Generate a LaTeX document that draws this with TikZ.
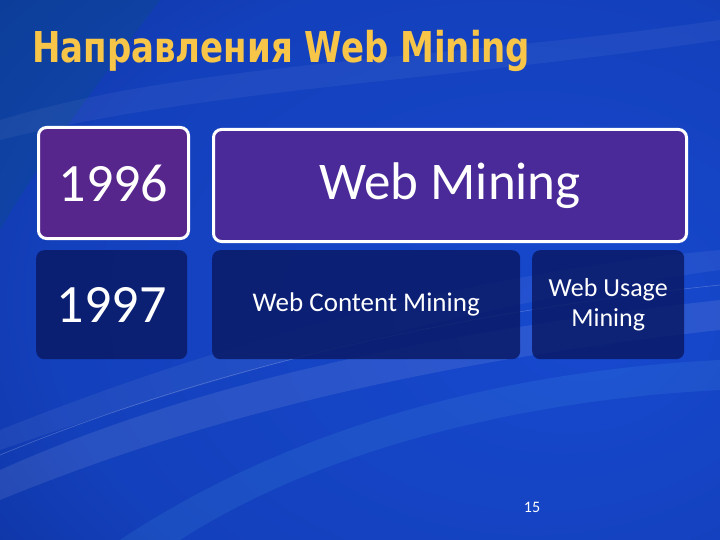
\documentclass[tikz,border=0pt]{standalone}
\usepackage{fontspec}
\setmainfont{Carlito}
\newfontfamily\titlefont{DejaVu Sans}
\usetikzlibrary{shadings}
\definecolor{bgmid}{HTML}{1749CF}
\definecolor{bgdark}{HTML}{041A6C}
\definecolor{bgteal}{HTML}{0A4E86}
\definecolor{purplebox}{HTML}{4A2A98}
\definecolor{purpleboxb}{HTML}{56268C}
\definecolor{darkbox}{HTML}{0A1A66}
\definecolor{titlegold}{HTML}{F7C548}
\tikzset{
  x=1pt,y=-1pt,
  topbox/.style={draw=white,line width=3pt,rounded corners=8pt,inner sep=0pt,anchor=north west,text=white},
  lowbox/.style={fill=darkbox,fill opacity=0.85,text opacity=1,rounded corners=8pt,inner sep=0pt,anchor=north west,text=white},
}
\pgfdeclareradialshading{bgshade}{\pgfpoint{0.6cm}{-0.2cm}}{color(0cm)=(bgmid);color(1.1cm)=(bgmid!80!bgdark);color(2.4cm)=(bgdark)}
\begin{document}
\begin{tikzpicture}
\useasboundingbox (0,0) rectangle (720,540);
% background
\shade[shading=bgshade] (0,0) rectangle (720,540);
\fill[bgteal,opacity=0.35] (0,0) -- (160,0) .. controls (100,80) and (40,160) .. (0,230) -- cycle;
% swooshes
\fill[white,opacity=0.09] (0,470) .. controls (200,380) and (450,330) .. (720,300) -- (720,330) .. controls (450,360) and (220,410) .. (0,500) -- cycle;
\fill[white,opacity=0.06] (0,430) .. controls (250,330) and (500,270) .. (720,250) -- (720,270) .. controls (500,300) and (260,360) .. (0,450) -- cycle;
\fill[cyan!60,opacity=0.10] (120,540) .. controls (300,420) and (520,370) .. (720,360) -- (720,390) .. controls (520,400) and (320,450) .. (180,540) -- cycle;
\fill[white,opacity=0.05] (0,120) .. controls (200,60) and (450,60) .. (720,20) -- (720,40) .. controls (450,80) and (200,90) .. (0,140) -- cycle;
\draw[white,opacity=0.22,line width=0.6pt] (0,455) .. controls (230,360) and (480,310) .. (720,285);
% title
\node (title)[anchor=base west,inner sep=0pt,text=titlegold] at (32,63) {\scalebox{1}[1.25]{\titlefont\bfseries\fontsize{34}{40}\selectfont Направления Web Mining}};
% boxes
\node (y96)[topbox,fill=purpleboxb,minimum width=150pt,minimum height=111pt] at (37,126) {};
\node at (y96.center) [text=white] {\fontsize{54}{60}\selectfont 1996};
\node (wm)[topbox,fill=purplebox,minimum width=473pt,minimum height=112pt] at (212,128) {};
\node at (wm.center) [text=white] {\fontsize{53}{60}\selectfont Web Mining};
\node (y97)[lowbox,minimum width=151pt,minimum height=109pt] at (36,250) {};
\node at (y97.center) [text=white] {\fontsize{54}{60}\selectfont 1997};
\node (wcm)[lowbox,minimum width=308pt,minimum height=109pt] at (212,250) {};
\node at (wcm.center) [text=white] {\fontsize{27}{30}\selectfont Web Content Mining};
\node (wum)[lowbox,minimum width=152pt,minimum height=109pt] at (532,250) {};
\node at (wum.center) [text=white,align=center,font=\fontsize{26}{30}\selectfont] {Web Usage\\Mining};
% page number
\node (pg) at (532,507) [text=white] {\fontsize{16}{18}\selectfont 15};
\end{tikzpicture}
\end{document}
